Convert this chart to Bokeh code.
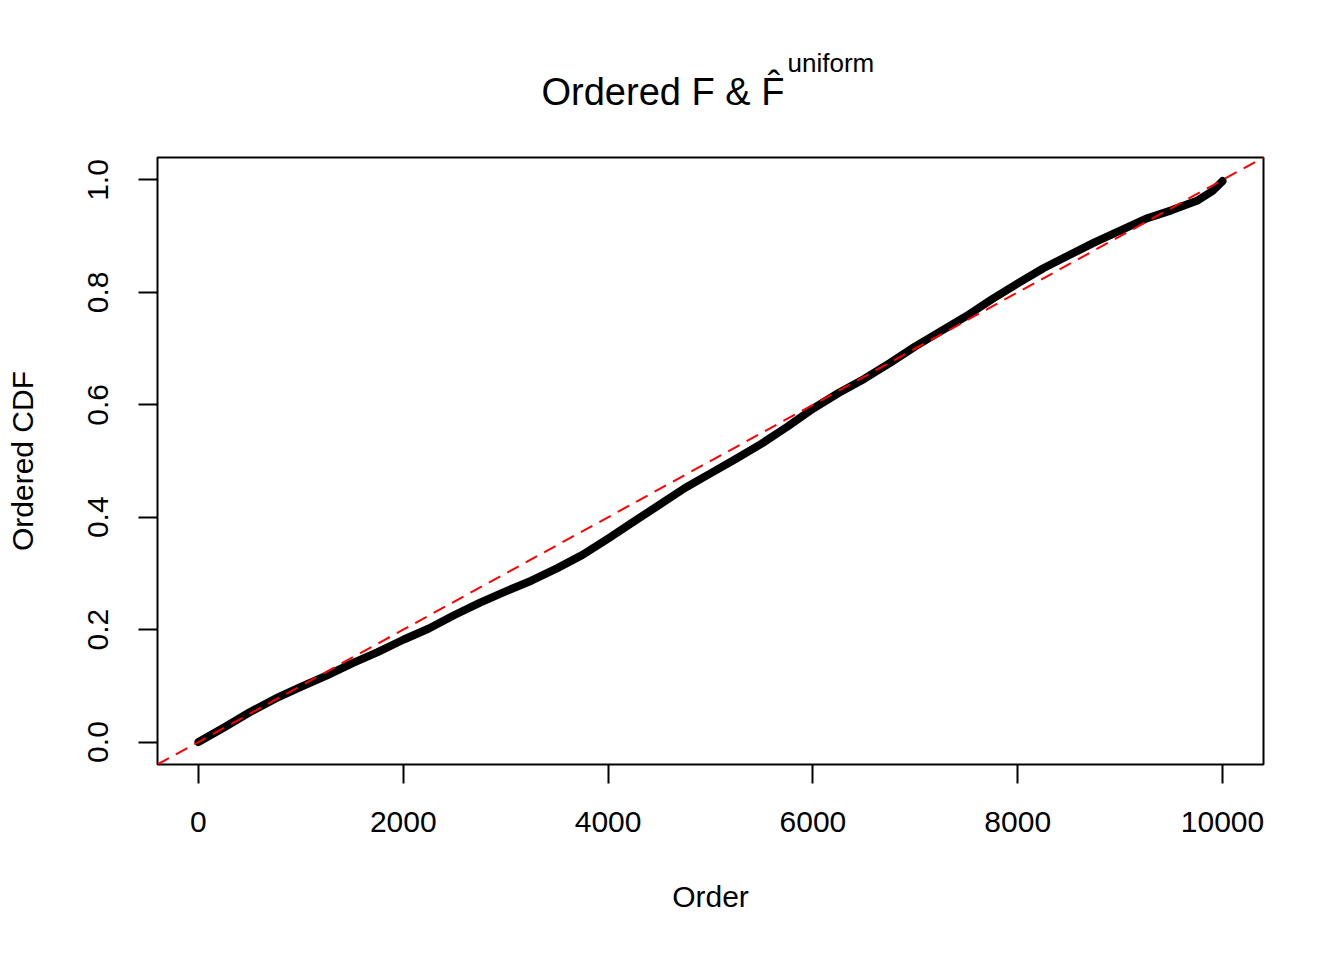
from bokeh.plotting import figure
from bokeh.models import Range1d, FixedTicker, Slope, Title
from bokeh.embed import file_html
from bokeh.resources import INLINE

# ---- data ----
order_x = [0, 250, 500, 750, 1000, 1250, 1500, 1750, 2000, 2250, 2500, 2750,
           3000, 3250, 3500, 3750, 4000, 4250, 4500, 4750, 5000, 5250, 5500,
           5750, 6000, 6250, 6500, 6750, 7000, 7250, 7500, 7750, 8000, 8250,
           8500, 8750, 9000, 9250, 9500, 9750, 9900, 10000]
cdf_y = [0.000, 0.026, 0.053, 0.077, 0.098, 0.118, 0.140, 0.160, 0.182, 0.202,
         0.226, 0.248, 0.268, 0.287, 0.309, 0.333, 0.362, 0.392, 0.422, 0.452,
         0.478, 0.504, 0.531, 0.561, 0.593, 0.621, 0.646, 0.674, 0.704, 0.731,
         0.758, 0.788, 0.816, 0.843, 0.866, 0.889, 0.910, 0.931, 0.946, 0.963,
         0.980, 0.998]
x_ticks = [0, 2000, 4000, 6000, 8000, 10000]
x_tick_labels = ["0", "2000", "4000", "6000", "8000", "10000"]
y_ticks = [0.0, 0.2, 0.4, 0.6, 0.8, 1.0]
y_tick_labels = ["0.0", "0.2", "0.4", "0.6", "0.8", "1.0"]
ref_slope = 1 / 10000
ref_intercept = 0.0
title_main = "Ordered F & F\u0302"
title_sup = "uniform"

FONT = "Liberation Sans"

p = figure(width=1344, height=960, output_backend="svg", toolbar_location=None,
           x_range=Range1d(-400, 10400), y_range=Range1d(-0.04, 1.04),
           min_border_left=157, min_border_right=81, min_border_top=157,
           min_border_bottom=196)
p.background_fill_color = "white"
p.border_fill_color = "white"
p.outline_line_color = "black"
p.outline_line_width = 2
p.grid.visible = False
p.title.text = ""

for ax in (p.xaxis[0], p.yaxis[0]):
    ax.axis_line_color = None
    ax.major_tick_in = 0
    ax.major_tick_out = 19
    ax.major_tick_line_width = 2
    ax.major_tick_line_color = "black"
    ax.minor_tick_line_color = None
    ax.major_label_text_font = FONT
    ax.major_label_text_font_size = "30px"
    ax.major_label_text_color = "black"
    ax.axis_label_text_font = FONT
    ax.axis_label_text_font_size = "30px"
    ax.axis_label_text_font_style = "normal"
    ax.axis_label_text_color = "black"

p.xaxis[0].ticker = FixedTicker(ticks=x_ticks)
p.xaxis[0].major_label_overrides = dict(zip(x_ticks, x_tick_labels))
p.xaxis[0].major_label_standoff = 28
p.xaxis[0].axis_label = "Order"
p.xaxis[0].axis_label_standoff = 45

p.yaxis[0].ticker = FixedTicker(ticks=y_ticks)
p.yaxis[0].major_label_overrides = dict(zip(y_ticks, y_tick_labels))
p.yaxis[0].major_label_orientation = "vertical"
p.yaxis[0].major_label_standoff = 30
p.yaxis[0].axis_label = "Ordered CDF"
p.yaxis[0].axis_label_standoff = 47

p.line(order_x, cdf_y, line_color="black", line_width=8, line_cap="round",
       line_join="round")
p.add_layout(Slope(gradient=ref_slope, y_intercept=ref_intercept,
                   line_color="red", line_width=2, line_dash="13 8"))

# title rows stacked outward from the frame: spacer, main text, superscript
t_space = Title(text=" ", align="left", offset=0, standoff=2,
                vertical_align="bottom", text_font=FONT, text_font_size="37px",
                text_font_style="normal", text_color="white")
t_main = Title(text=title_main, align="left", offset=384, standoff=0,
               vertical_align="bottom", text_font=FONT, text_font_size="38px",
               text_font_style="normal", text_color="black")
t_sup = Title(text=title_sup, align="left", offset=630, standoff=-18,
              vertical_align="bottom", text_font=FONT, text_font_size="26px",
              text_font_style="normal", text_color="black")
p.add_layout(t_space, "above")
p.add_layout(t_main, "above")
p.add_layout(t_sup, "above")

open("out.html", "w").write(file_html(p, INLINE))
